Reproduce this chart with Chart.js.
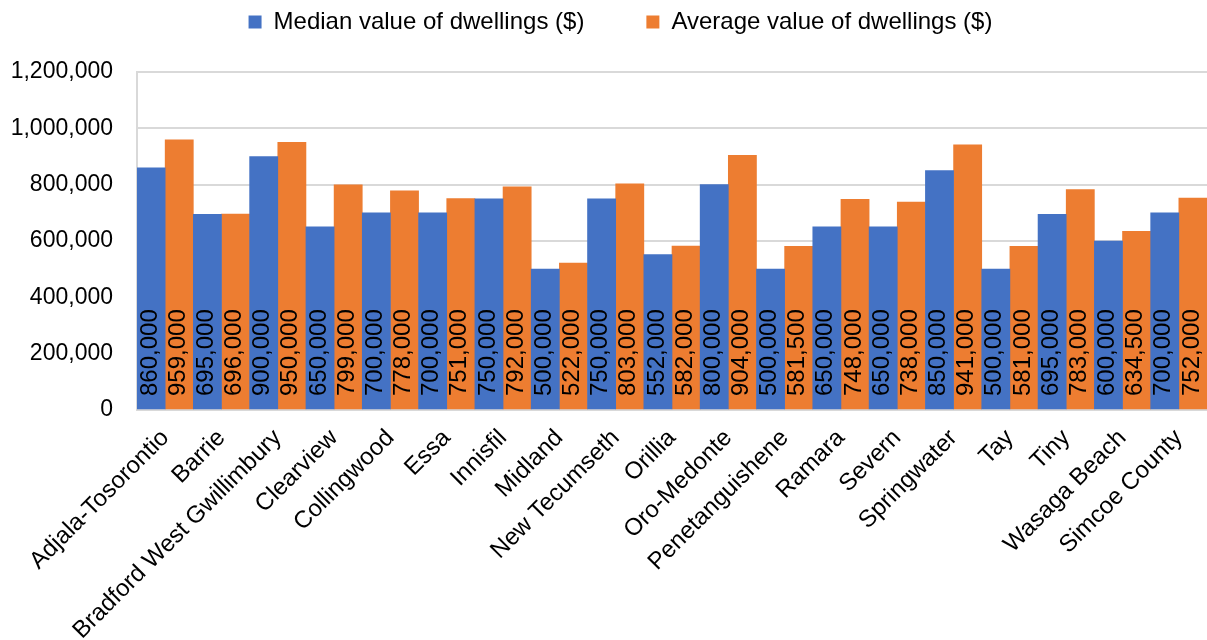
<!DOCTYPE html>
<html lang="en">
<head>
    <meta charset="UTF-8">
    <title>Value of dwellings</title>
    <script src="https://cdn.jsdelivr.net/npm/chart.js"></script>
    <style>
        body {
            margin: 0;
            padding: 0;
            background-color: #ffffff;
        }
        canvas {
            display: block;
        }
    </style>
</head>
<body>
    <canvas id="dwellingChart" width="1207" height="640"></canvas>

    <script>
        // Data
        const places = ['Adjala-Tosorontio', 'Barrie', 'Bradford West Gwillimbury', 'Clearview', 'Collingwood',
            'Essa', 'Innisfil', 'Midland', 'New Tecumseth', 'Orillia', 'Oro-Medonte', 'Penetanguishene',
            'Ramara', 'Severn', 'Springwater', 'Tay', 'Tiny', 'Wasaga Beach', 'Simcoe County'];
        const medianValues = [860000, 695000, 900000, 650000, 700000, 700000, 750000, 500000, 750000, 552000,
            800000, 500000, 650000, 650000, 850000, 500000, 695000, 600000, 700000];
        const averageValues = [959000, 696000, 950000, 799000, 778000, 751000, 792000, 522000, 803000, 582000,
            904000, 581500, 748000, 738000, 941000, 581000, 783000, 634500, 752000];
        const yTicks = [0, 200000, 400000, 600000, 800000, 1000000, 1200000];

        const FONT = 'Arial, "Liberation Sans", sans-serif';
        const fmt = v => v.toLocaleString('en-US');

        // writes the value upright inside each bar, starting near the base
        const barLabels = {
            id: 'barLabels',
            afterDatasetsDraw(chart) {
                const ctx = chart.ctx;
                ctx.save();
                ctx.font = '24px ' + FONT;
                ctx.fillStyle = '#000000';
                ctx.textAlign = 'left';
                ctx.textBaseline = 'middle';
                chart.data.datasets.forEach((ds, i) => {
                    chart.getDatasetMeta(i).data.forEach((bar, j) => {
                        ctx.save();
                        ctx.translate(bar.x - 1, bar.base - 13);
                        ctx.rotate(-Math.PI / 2);
                        ctx.fillText(fmt(ds.data[j]), 0, 0);
                        ctx.restore();
                    });
                });
                ctx.restore();
            }
        };

        // fixed legend band height so the plot starts where the reference does,
        // and nudge the legend a little right like the original
        const legendBand = {
            id: 'legendBand',
            beforeInit(chart) {
                const fit = chart.legend.fit;
                chart.legend.fit = function () {
                    fit.bind(chart.legend)();
                    this.height = 124;
                };
            },
            afterLayout(chart) {
                chart.legend.left += 17;
                chart.legend.right += 17;
            }
        };

        const ctx = document.getElementById('dwellingChart').getContext('2d');
        const dwellingChart = new Chart(ctx, {
            type: 'bar',
            data: {
                labels: places,
                datasets: [{
                    label: 'Median value of dwellings ($)',
                    data: medianValues,
                    backgroundColor: '#4472C4',
                    categoryPercentage: 1,
                    barPercentage: 1
                }, {
                    label: 'Average value of dwellings ($)',
                    data: averageValues,
                    backgroundColor: '#ED7D31',
                    categoryPercentage: 1,
                    barPercentage: 1
                }]
            },
            options: {
                responsive: false,
                animation: false,
                layout: { padding: { top: -52, left: 0, right: 0, bottom: 0 } },
                plugins: {
                    legend: {
                        position: 'top',
                        labels: {
                            boxWidth: 13,
                            boxHeight: 13,
                            padding: 62,
                            color: '#000000',
                            font: { family: FONT, size: 24 }
                        }
                    },
                    tooltip: { enabled: false }
                },
                scales: {
                    x: {
                        grid: { display: false },
                        border: { display: true, color: '#d9d9d9', width: 2 },
                        ticks: {
                            color: '#000000',
                            font: { family: FONT, size: 24 },
                            minRotation: 45,
                            maxRotation: 45,
                            autoSkip: false,
                            padding: 6
                        },
                        afterFit(scale) { scale.height = 230; }
                    },
                    y: {
                        min: 0,
                        max: 1200000,
                        afterBuildTicks(scale) { scale.ticks = yTicks.map(v => ({ value: v })); },
                        grid: { color: '#d9d9d9', lineWidth: 2, drawTicks: false },
                        border: { display: true, color: '#d9d9d9', width: 2 },
                        ticks: {
                            color: '#000000',
                            font: { family: FONT, size: 23 },
                            padding: 24,
                            callback: v => fmt(v)
                        },
                        afterFit(scale) { scale.width = 137; }
                    }
                }
            },
            plugins: [barLabels, legendBand]
        });
    </script>
</body>
</html>
